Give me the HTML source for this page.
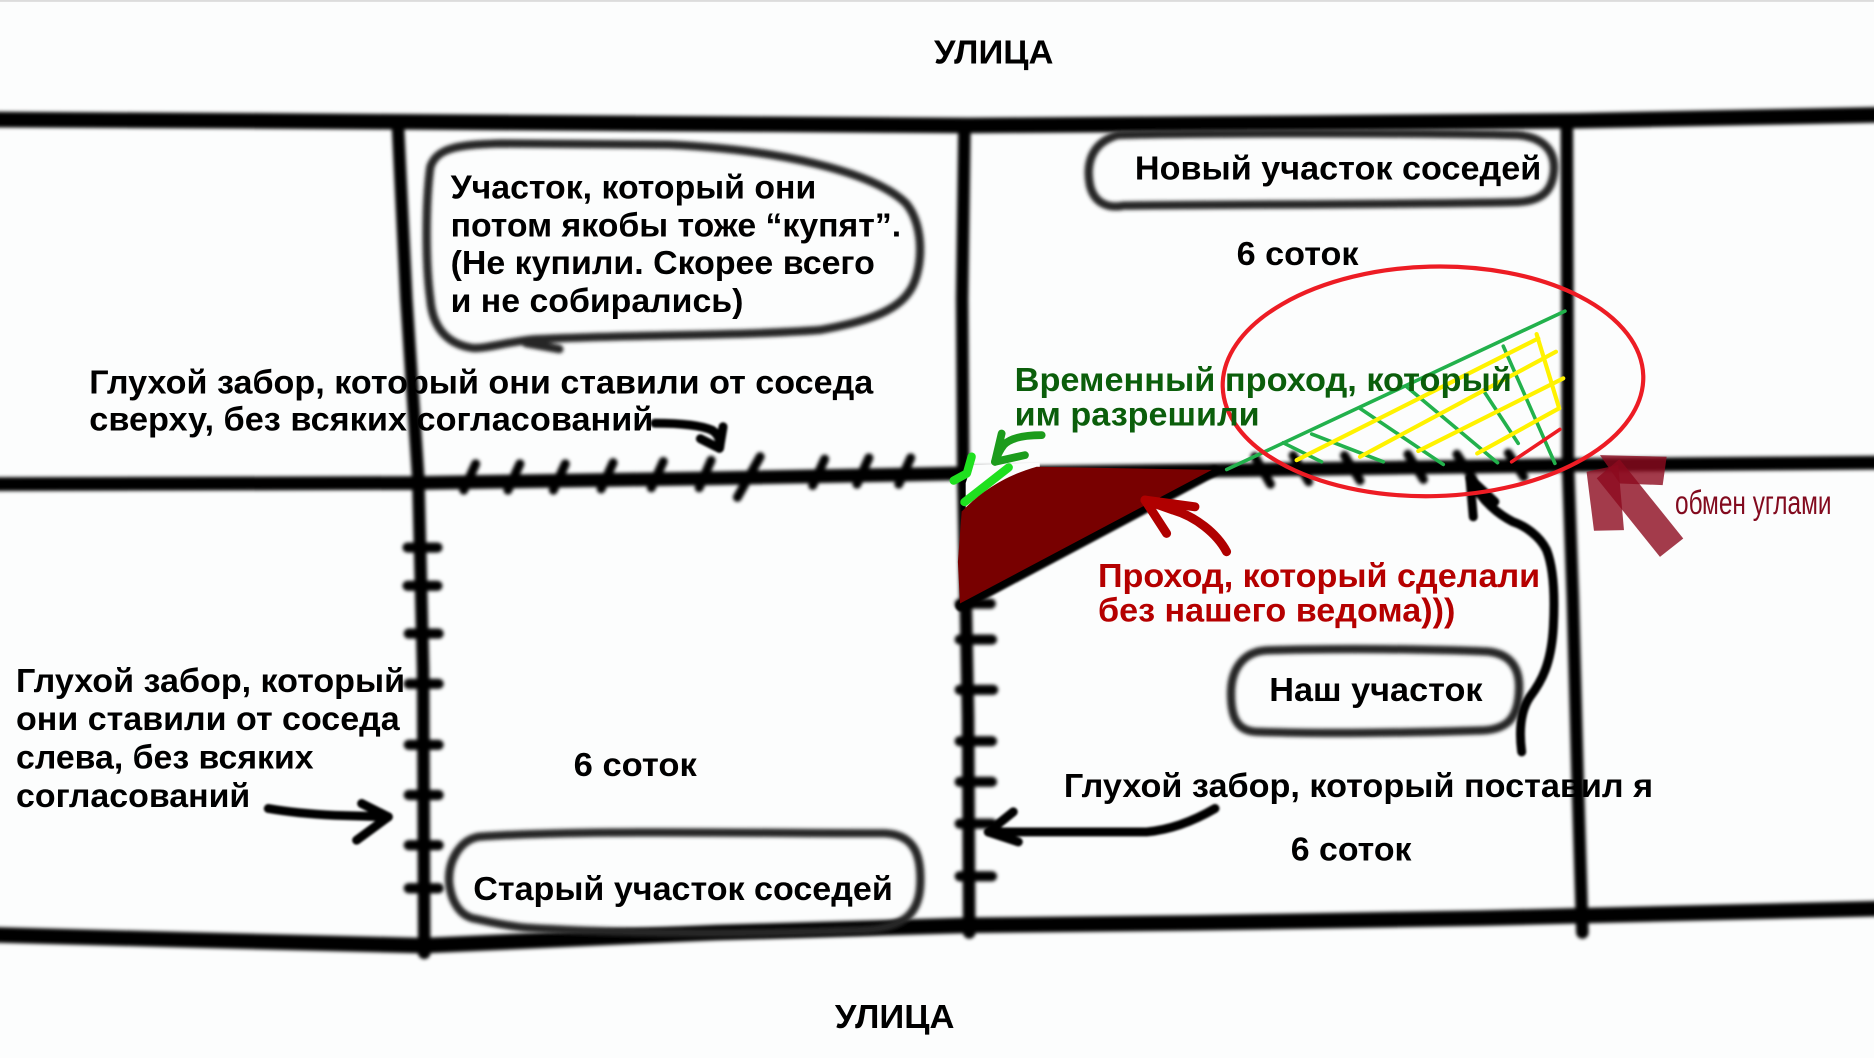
<!DOCTYPE html>
<html>
<head>
<meta charset="utf-8">
<style>
html,body{margin:0;padding:0;background:#fcfdfd;}
svg{display:block}
text{font-family:"Liberation Sans",Arial,sans-serif;font-weight:bold;font-size:28px;fill:#000;}
</style>
</head>
<body>
<svg width="1874" height="1058" viewBox="0 0 1568 885" preserveAspectRatio="none" xmlns="http://www.w3.org/2000/svg">
<defs>
<filter id="b" x="-5%" y="-5%" width="110%" height="110%"><feGaussianBlur stdDeviation="1.5"/></filter>
<filter id="b2" x="-5%" y="-5%" width="110%" height="110%"><feGaussianBlur stdDeviation="0.9"/></filter>
</defs>
<rect x="0" y="0" width="1568" height="885" fill="#fcfdfd"/>
<line x1="0" y1="0.8" x2="1568" y2="0.8" stroke="#dcdcdc" stroke-width="1.6"/>

<!-- main black lines -->
<g filter="url(#b)" fill="none" stroke="#000" stroke-linecap="round" stroke-linejoin="round">
  <polyline points="-5,100 200,101 500,103 810,105 1100,103 1320,101 1575,96" stroke-width="13"/>
  <polyline points="-5,405 350,404 600,400 805,396 1050,393 1320,389 1575,387" stroke-width="11.5"/>
  <polyline points="-5,782 150,786 354,791 600,780 810,774 1000,772 1240,768 1320,766 1575,760" stroke-width="13"/>
  <polyline points="333,106 340,250 350,400 354,560 355,797" stroke-width="10.5"/>
  <polyline points="807,106 805,250 806,400 810,600 811,780" stroke-width="10.5"/>
  <polyline points="1311,103 1312,390 1316,500 1320,650 1324,780" stroke-width="10.5"/>
  <!-- ticks on left vertical -->
  <g stroke-width="8.5">
    <line x1="341" y1="458" x2="366" y2="458"/>
    <line x1="341" y1="490" x2="366" y2="490"/>
    <line x1="342" y1="530" x2="367" y2="530"/>
    <line x1="342" y1="572" x2="367" y2="572"/>
    <line x1="342" y1="623" x2="367" y2="623"/>
    <line x1="342" y1="665" x2="367" y2="665"/>
    <line x1="342" y1="707" x2="367" y2="707"/>
    <line x1="342" y1="743" x2="367" y2="743"/>
  </g>
  <!-- ticks on middle vertical -->
  <g stroke-width="8.5">
    <line x1="803" y1="505" x2="829" y2="505"/>
    <line x1="803" y1="535" x2="830" y2="535"/>
    <line x1="803" y1="577" x2="831" y2="577"/>
    <line x1="803" y1="620" x2="830" y2="620"/>
    <line x1="803" y1="654" x2="830" y2="654"/>
    <line x1="803" y1="689" x2="830" y2="689"/>
    <line x1="803" y1="733" x2="830" y2="733"/>
  </g>
  <!-- ticks on middle line left -->
  <g stroke-width="7.5">
    <line x1="388" y1="410" x2="398" y2="388"/>
    <line x1="425" y1="410" x2="435" y2="388"/>
    <line x1="463" y1="410" x2="473" y2="388"/>
    <line x1="503" y1="409" x2="513" y2="387"/>
    <line x1="545" y1="408" x2="555" y2="386"/>
    <line x1="585" y1="408" x2="595" y2="385"/>
    <line x1="617" y1="416" x2="636" y2="382"/>
    <line x1="680" y1="406" x2="690" y2="384"/>
    <line x1="717" y1="405" x2="727" y2="383"/>
    <line x1="752" y1="405" x2="762" y2="383"/>
  </g>
  <!-- ticks on middle line right -->
  <g stroke-width="7.5">
    <line x1="1050" y1="382" x2="1063" y2="405"/>
    <line x1="1082" y1="381" x2="1095" y2="403"/>
    <line x1="1125" y1="381" x2="1138" y2="402"/>
    <line x1="1178" y1="380" x2="1191" y2="401"/>
    <line x1="1219" y1="380" x2="1232" y2="400"/>
    <line x1="1262" y1="379" x2="1275" y2="399"/>
  </g>
</g>

<!-- bubbles -->
<g filter="url(#b)" fill="none" stroke="#262626" stroke-width="7" stroke-linecap="round" stroke-linejoin="round">
  <path d="M360,140 C365,123 385,121 420,120 L560,121 C650,125 730,143 758,170 C775,190 772,230 760,245 C748,262 720,270 686,276 C620,281 520,280 445,284 C420,287 405,292 395,291 C375,288 362,275 360,250 C356,220 356,170 360,140 Z"/>
  <path d="M440,287 L468,292"/>
  <path d="M935,113 C1000,111 1200,111 1270,113 C1295,115 1302,130 1300,145 C1298,160 1290,168 1270,169 C1200,171 1000,171 940,172 C925,175 915,168 912,155 C909,140 911,120 935,113 Z"/>
  <path d="M1060,544 C1120,542 1200,543 1245,545 C1265,547 1272,560 1271,578 C1270,600 1262,610 1240,611 C1180,613 1100,614 1050,612 C1035,611 1030,600 1030,580 C1030,560 1040,545 1060,544 Z"/>
  <path d="M400,700 C480,694 620,697 740,697 C765,698 771,715 770,740 C769,765 755,777 720,778 C620,782 520,781 440,776 C420,774 405,770 395,768 C385,765 378,755 376,740 C374,720 385,703 400,700 Z"/>
</g>

<!-- black arrows -->
<g filter="url(#b2)" fill="none" stroke="#000" stroke-width="7.5" stroke-linecap="round" stroke-linejoin="round">
  <path d="M548,354 C565,354 585,355 596,360 C602,364 603,370 602,375"/>
  <path d="M586,367 L602,375 L605,357"/>
  <path d="M224.5,676.3 C240,679 260,681 280,682 L324.9,683.3"/>
  <path d="M302.6,672.1 L324.9,683.3 L298.4,702.8"/>
  <path d="M1016.6,676.3 C1000,686 980,694 959.4,695.9 L826.9,695.9"/>
  <path d="M847.8,679.1 L826.9,695.9 L852,704.2"/>
  <path d="M1273.2,628.9 C1271,612 1272,595 1280,583 C1290,570 1298,555 1299.7,524.3 C1301,500 1300,475 1294,460 C1288,448 1276,440 1266,436.5 C1255,431 1240,420 1230,400"/>
  <path d="M1232.7,432.3 L1229.9,400.2 L1250.8,419.7"/>
  <!-- black diagonal under red area -->
  <path d="M1016,394 L804,507" stroke-width="9"/>
</g>

<!-- white erase band -->
<polygon points="813,389 870,387 870,394 808,431 808,404" fill="#fcfdfd"/>

<!-- lime strokes -->
<g fill="none" stroke="#1fe01f" stroke-width="7" stroke-linecap="round" stroke-linejoin="round">
  <path d="M813,382 L809,396 L798,402"/>
  <path d="M844,391 L807,420"/>
</g>
<!-- green arrow -->
<g fill="none" stroke="#1c9c1c" stroke-width="6.5" stroke-linecap="round" stroke-linejoin="round">
  <path d="M871.6,364 C858,364 846,366 840,372 C836,377 834,382 832.5,386.3"/>
  <path d="M838.1,362.6 L832.5,386.3 L857.6,380.7"/>
</g>

<!-- dark red area -->
<path d="M867.4,390.4 L1014,393 L803.2,504.8 L801.5,470 L804.6,428 C820,412 840,398 867.4,390.4 Z" fill="#780000"/>

<!-- red arrow -->
<g fill="none" stroke="#b00000" stroke-width="7.5" stroke-linecap="round" stroke-linejoin="round">
  <path d="M1026.3,461.5 C1018,446 1000,432 981.7,426.7 L958,418.3"/>
  <path d="M976.1,446.2 L958,418.3 L999.8,423.9"/>
</g>

<!-- hatch -->
<g fill="none" stroke-linecap="round">
  <g stroke="#22b14c" stroke-width="3">
    <line x1="1026.4" y1="392.7" x2="1309.4" y2="260.2"/>
    <line x1="1073.7" y1="370.4" x2="1105.8" y2="386.3"/>
    <line x1="1097.5" y1="363.1" x2="1157.4" y2="386.3"/>
    <line x1="1137.9" y1="341.6" x2="1207.6" y2="388.5"/>
    <line x1="1177" y1="323.5" x2="1253" y2="387.1"/>
    <line x1="1241" y1="326.3" x2="1270.3" y2="370.9"/>
    <line x1="1257.8" y1="289.5" x2="1301" y2="387.6"/>
  </g>
  <g stroke="#fff200" stroke-width="3.5">
    <line x1="1084.9" y1="384.9" x2="1287.1" y2="283.1"/>
    <line x1="1137.9" y1="382.1" x2="1301.9" y2="294.2"/>
    <line x1="1186.7" y1="377.3" x2="1308" y2="316.5"/>
    <line x1="1236" y1="379.3" x2="1304.4" y2="341.6"/>
    <line x1="1285.7" y1="279.5" x2="1304.6" y2="341.6"/>
  </g>
  <line x1="1264.8" y1="386.3" x2="1305.2" y2="359.2" stroke="#ed1c24" stroke-width="3"/>
</g>

<!-- red ellipse -->
<ellipse cx="1199" cy="319" rx="176" ry="96" fill="none" stroke="#ed1c24" stroke-width="3.5" transform="rotate(-1.5 1199 319)"/>

<!-- exchange arrow -->
<g fill="rgba(140,10,30,0.8)">
  <polygon points="1338.7,380.7 1394.5,382.1 1391.2,405.8 1355.4,404.4"/>
  <polygon points="1327.5,394.6 1354,389 1358.8,443.4 1333.7,444"/>
  <polygon points="1336,400 1355,384 1408.4,450.4 1388.9,465.8"/>
</g>

<!-- texts -->
<text x="781.5" y="53" font-size="30" textLength="100" lengthAdjust="spacingAndGlyphs">УЛИЦА</text>
<text x="377" y="166" font-size="28.5" textLength="306" lengthAdjust="spacingAndGlyphs">Участок, который они</text>
<text x="377" y="197.7" font-size="28.5" textLength="377" lengthAdjust="spacingAndGlyphs">потом якобы тоже “купят”.</text>
<text x="377" y="229.3" font-size="28.5" textLength="355" lengthAdjust="spacingAndGlyphs">(Не купили. Скорее всего</text>
<text x="377" y="261" font-size="28.5" textLength="245" lengthAdjust="spacingAndGlyphs">и не собирались)</text>
<text x="949.6" y="150" font-size="30" textLength="340" lengthAdjust="spacingAndGlyphs">Новый участок соседей</text>
<text x="1034.7" y="221.7" font-size="28.5" textLength="102" lengthAdjust="spacingAndGlyphs">6 соток</text>
<text x="74.7" y="329" font-size="28.5" textLength="656" lengthAdjust="spacingAndGlyphs">Глухой забор, который они ставили от соседа</text>
<text x="74.7" y="360" font-size="28.5" textLength="472" lengthAdjust="spacingAndGlyphs">сверху, без всяких согласований</text>
<text x="849" y="327" font-size="28.5" style="fill:#0b5e0b" textLength="416" lengthAdjust="spacingAndGlyphs">Временный проход, который</text>
<text x="849" y="356" font-size="28.5" style="fill:#0b5e0b" textLength="205" lengthAdjust="spacingAndGlyphs">им разрешили</text>
<text x="918.7" y="491" font-size="29" style="fill:#b50000" textLength="370" lengthAdjust="spacingAndGlyphs">Проход, который сделали</text>
<text x="918.7" y="520" font-size="29" style="fill:#b50000" textLength="299" lengthAdjust="spacingAndGlyphs">без нашего ведома)))</text>
<text x="1401.5" y="430" font-size="20" style="font-weight:normal;fill:#820a1e" textLength="131" lengthAdjust="spacingAndGlyphs">обмен углами</text>
<text x="1062" y="586.5" font-size="28.5" textLength="178.5" lengthAdjust="spacingAndGlyphs">Наш участок</text>
<text x="13.4" y="578.7" font-size="28.5" textLength="325.5" lengthAdjust="spacingAndGlyphs">Глухой забор, который</text>
<text x="13.4" y="610.8" font-size="28.5" textLength="321" lengthAdjust="spacingAndGlyphs">они ставили от соседа</text>
<text x="13.4" y="642.8" font-size="28.5" textLength="249" lengthAdjust="spacingAndGlyphs">слева, без всяких</text>
<text x="13.4" y="675" font-size="28.5" textLength="196" lengthAdjust="spacingAndGlyphs">согласований</text>
<text x="480" y="649" font-size="28.5" textLength="103" lengthAdjust="spacingAndGlyphs">6 соток</text>
<text x="890.2" y="666.6" font-size="29.5" textLength="493" lengthAdjust="spacingAndGlyphs">Глухой забор, который поставил я</text>
<text x="1080" y="719.6" font-size="28.5" textLength="101" lengthAdjust="spacingAndGlyphs">6 соток</text>
<text x="396" y="753" font-size="29" textLength="351" lengthAdjust="spacingAndGlyphs">Старый участок соседей</text>
<text x="698.6" y="860" font-size="30" textLength="100" lengthAdjust="spacingAndGlyphs">УЛИЦА</text>
</svg>
</body>
</html>
